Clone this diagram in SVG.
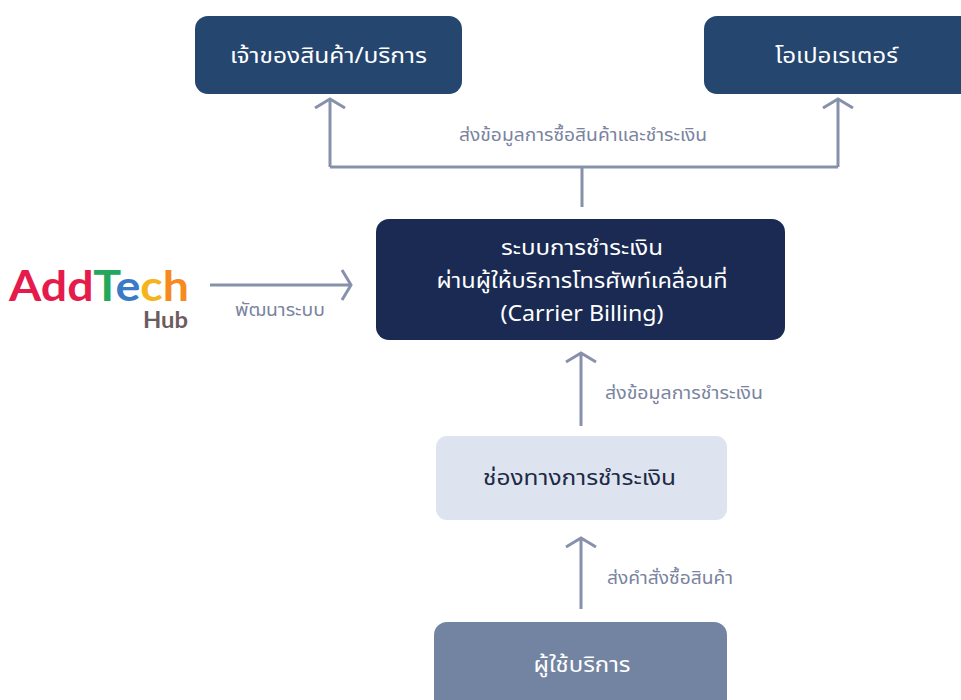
<svg xmlns="http://www.w3.org/2000/svg" width="961" height="700" viewBox="0 0 961 700">
<style>
text{font-family:"Noto Sans Thai","Noto Sans","Open Sans","DejaVu Sans",sans-serif}
.t{font-size:21px;fill:#ffffff;text-anchor:middle}
.d{font-size:21px;fill:#1e2a45;text-anchor:middle}
.lbl{font-size:17px;fill:#7a84a0}
.c{fill:none;stroke:#8791ac;stroke-width:3}
.logo{font-family:"Lato","Inter","Noto Sans",sans-serif;font-weight:700}
</style>
<rect width="961" height="700" fill="#ffffff"/>
<g id="owner">
<rect x="195" y="16" width="267" height="78" rx="13" fill="#24466f"/>
<text class="t" x="328.5" y="63" textLength="197" lengthAdjust="spacingAndGlyphs">เจ้าของสินค้า/บริการ</text>
</g>
<g id="operator">
<rect x="704" y="16" width="270" height="78" rx="13" fill="#24466f"/>
<text class="t" x="836.5" y="63" textLength="123" lengthAdjust="spacingAndGlyphs">โอเปอเรเตอร์</text>
</g>
<g id="carrier-billing">
<rect x="376" y="219" width="409" height="121" rx="13" fill="#1a2a52"/>
<text class="t" x="582" y="255" textLength="162" lengthAdjust="spacingAndGlyphs">ระบบการชำระเงิน</text>
<text class="t" x="582" y="288" textLength="291" lengthAdjust="spacingAndGlyphs">ผ่านผู้ให้บริการโทรศัพท์เคลื่อนที่</text>
<text class="t" x="582" y="321" textLength="163" lengthAdjust="spacingAndGlyphs">(Carrier Billing)</text>
</g>
<g id="payment-channel">
<rect x="436" y="436" width="291" height="84" rx="11" fill="#dde4f0"/>
<text class="d" x="579.5" y="485" textLength="193" lengthAdjust="spacingAndGlyphs">ช่องทางการชำระเงิน</text>
</g>
<g id="user">
<rect x="434" y="622" width="293" height="100" rx="13" fill="#7384a2"/>
<text class="t" x="582" y="672" textLength="97" lengthAdjust="spacingAndGlyphs">ผู้ใช้บริการ</text>
</g>
<g id="addtech-hub">
<text class="logo" x="9" y="301" font-size="42" textLength="180" lengthAdjust="spacingAndGlyphs"><tspan fill="#e51b4c">Add</tspan><tspan fill="#22a75c">T</tspan><tspan fill="#3a7bc8">e</tspan><tspan fill="#f5b41b">c</tspan><tspan fill="#f58a20">h</tspan></text>
<text class="logo" x="143" y="328" font-size="23" fill="#6d5c5e" textLength="45" lengthAdjust="spacingAndGlyphs">Hub</text>
</g>
<g id="connectors">
<path class="c" d="M582 207V167M330 167H838M330 167V99M838 167V99"/>
<path class="c" d="M315 108L330 99L345 108M823 108L838 99L853 108"/>
<text class="lbl" x="583" y="141" text-anchor="middle" textLength="248" lengthAdjust="spacingAndGlyphs">ส่งข้อมูลการซื้อสินค้าและชำระเงิน</text>
<path class="c" d="M210 285H351M342 270L351 285L342 300"/>
<text class="lbl" x="280" y="316" text-anchor="middle" textLength="90" lengthAdjust="spacingAndGlyphs">พัฒนาระบบ</text>
<path class="c" d="M581 426V353M566 362L581 353L596 362"/>
<text class="lbl" x="605" y="399" textLength="158" lengthAdjust="spacingAndGlyphs">ส่งข้อมูลการชำระเงิน</text>
<path class="c" d="M581 609V538M566 547L581 538L596 547"/>
<text class="lbl" x="607" y="584" textLength="126" lengthAdjust="spacingAndGlyphs">ส่งคำสั่งซื้อสินค้า</text>
</g>
</svg>
